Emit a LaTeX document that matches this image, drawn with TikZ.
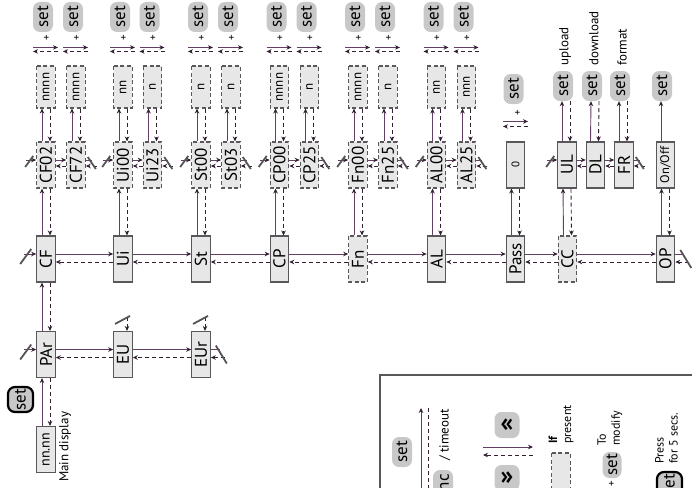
\documentclass[tikz,border=0pt]{standalone}
\usepackage{fontspec}
\setmainfont{PT Sans}
\usetikzlibrary{arrows.meta,calc}
\definecolor{boxfill}{RGB}{231,231,232}
\definecolor{boxline}{RGB}{88,88,90}
\definecolor{btn}{RGB}{200,200,201}
\definecolor{solc}{RGB}{100,62,100}
\definecolor{dashc}{RGB}{50,32,50}
\definecolor{slashc}{RGB}{85,85,85}
\tikzset{
 base/.style={rotate=90, inner sep=0pt, font=\fontsize{17}{17}\selectfont},
 mbox/.style={base, draw=boxline, fill=boxfill, line width=1.1pt, minimum width=46pt, minimum height=18.5pt},
 obox/.style={mbox, dash pattern=on 4pt off 2.5pt},
 vbox/.style={obox, minimum width=42pt, font=\fontsize{13}{13}\selectfont},
 setb/.style={base, fill=btn, rounded corners=7pt, minimum width=30pt, minimum height=20pt},
 pset/.style={base, fill=btn, draw=black, line width=2.2pt, rounded corners=7pt, minimum width=25pt, minimum height=25pt},
 btnu/.style={inner sep=0pt, fill=btn, rounded corners=7pt, minimum width=25pt, minimum height=26pt, font=\fontsize{26}{26}\selectfont\bfseries},
 plus/.style={base, font=\fontsize{11}{11}\selectfont},
 lab/.style={rotate=90, inner sep=0pt, anchor=west, align=left, font=\fontsize{13}{15}\selectfont},
 arrtip/.style={-{Stealth[length=5pt,width=4.5pt,color=dashc]}},
 sol/.style={draw=solc, line width=0.9pt, arrtip},
 solline/.style={draw=solc, line width=0.9pt},
 das/.style={draw=dashc, line width=0.9pt, dash pattern=on 4pt off 3pt, arrtip},
 dasline/.style={draw=dashc, line width=0.9pt, dash pattern=on 4pt off 3pt},
 slash/.style={draw=slashc, line width=1.8pt},
 frame/.style={draw=boxline, line width=1.2pt},
}
\newcommand\wrapL[2]{%
 \draw[sol] ($(#1.north)+(-12pt,#2)$) -- ([yshift=#2]#1.north);
 \draw[slash] ($(#1.north)+(-16pt,#2-10pt)$) -- ($(#1.north)+(-5pt,#2+5pt)$);}
\newcommand\wrapl[2]{%
 \draw[sol] ($(#1.north)+(-10pt,#2)$) -- ([yshift=#2]#1.north);
 \draw[slash] ($(#1.north)+(-11pt,#2-7pt)$) -- ($(#1.north)+(-3pt,#2+4pt)$);}
\newcommand\wrapR[3]{%
 \draw[solline] ([yshift=#2]#1.south) -- ($(#1.south)+(9pt,#2)$);
 \draw[das] ($(#1.south)+(14pt,#3)$) -- ([yshift=#3]#1.south);
 \draw[slash] ($(#1.south)+(5pt,#2+4pt)$) -- ($(#1.south)+(16pt,#3-6pt)$);}
\newcommand\wrapr[3]{%
 \draw[solline] ([yshift=#2]#1.south) -- ($(#1.south)+(6pt,#2)$);
 \draw[das] ($(#1.south)+(11pt,#3)$) -- ([yshift=#3]#1.south);
 \draw[slash] ($(#1.south)+(2pt,#2+3pt)$) -- ($(#1.south)+(10pt,#3-3pt)$);}
\newcommand\wrapT[1]{%
 \draw[das] ($(#1.east)+(4pt,14pt)$) -- ([xshift=4pt]#1.east);
 \draw[slash] ($(#1.east)+(-8pt,7pt)$) -- ($(#1.east)+(7pt,15pt)$);}
\begin{document}
\begin{tikzpicture}[x=1pt,y=-1pt]
\useasboundingbox (0,0) rectangle (692,487);
% ---------- main row
\node[mbox] (CF) at (46,259) {CF};
\node[mbox] (Ui) at (123,259) {Ui};
\node[mbox] (St) at (201,259) {St};
\node[mbox] (CP) at (279.5,259) {CP};
\node[obox] (Fn) at (358,259) {Fn};
\node[mbox] (AL) at (436.5,259) {AL};
\node[mbox] (Pass) at (515.5,259) {Pass};
\node[obox] (CC) at (567.5,259) {CC};
\node[mbox] (OP) at (665.5,259) {OP};
\foreach \a/\b in {CF/Ui, Ui/St, St/CP, CP/Fn, Fn/AL, AL/Pass, Pass/CC, CC/OP}{
 \draw[sol] ([yshift=5pt]\a.south) -- ([yshift=5pt]\b.north);
 \draw[das] ([yshift=-3pt]\b.north) -- ([yshift=-3pt]\a.south);
}
% ---------- parameter rows
\foreach \n/\t/\x/\v in {CFa/CF02/46/nnnn, CFb/CF72/76/nnnn, Uia/Ui00/123/nn, Uib/Ui23/152.5/n, Sta/St00/201/n, Stb/St03/231/n, CPa/CP00/279.5/nnnn, CPb/CP25/309.5/n, Fna/Fn00/358/nnnn, Fnb/Fn25/388/n, ALa/AL00/436.5/nn, ALb/AL25/466.5/nnn}{
 \node[obox] (\n) at (\x,165) {\t};
 \node[vbox] (v\n) at (\x,87) {\v};
 \node[setb] (s\n) at (\x-3,17) {set};
 \node[plus] (p\n) at (\x+1,38) {+};
 \draw[sol] ([xshift=-4pt]\n.east) -- ([xshift=-4pt]v\n.west);
 \draw[das] ([xshift=4pt]v\n.west) -- ([xshift=4pt]\n.east);
 \draw[sol] ($(v\n.east)+(-13pt,18pt)$) -- ($(v\n.east)+(12pt,18pt)$);
 \draw[das] ($(v\n.east)+(12pt,14pt)$) -- ($(v\n.east)+(-13pt,14pt)$);
}
% password
\node[mbox, font=\fontsize{11}{11}\selectfont] (Pz) at (515.5,165) {0};
\node[setb] (sPz) at (513.5,89) {set};
\node[plus] (pPz) at (518,113) {+};
\draw[sol] ($(Pz.east)+(-12.5pt,20pt)$) -- ($(Pz.east)+(12.5pt,20pt)$);
\draw[das] ($(Pz.east)+(12.5pt,15pt)$) -- ($(Pz.east)+(-12.5pt,15pt)$);
% copy card
\node[mbox] (UL) at (567,165) {UL};
\node[mbox] (DL) at (595.5,165) {DL};
\node[mbox] (FR) at (624,165) {FR};
\node[mbox, font=\fontsize{12.5}{12.5}\selectfont] (OnOff) at (665.5,165) {On/Off};
\foreach \n/\x/\l in {UL/563/upload, DL/592/download, FR/620/format}{
 \node[setb] (s\n) at (\x,86) {set};
 \node[lab] (l\n) at (\x+2,66) {\l};
 \draw[sol] ($(\n.east)+(-5pt,0pt)$) -- ($(s\n.west)+(-1pt,0pt)$);
 \draw[das] ($(s\n.west)+(7pt,0pt)$) -- ($(\n.east)+(3pt,0pt)$);
}
\node[setb] (sOn) at (662,86) {set};
\draw[sol] ($(OnOff.east)+(-4.5pt,0pt)$) -- ($(sOn.west)+(-1pt,0pt)$);
% main to sub
\foreach \m/\s in {CF/CFa, Ui/Uia, St/Sta, CP/CPa, Fn/Fna, AL/ALa, Pass/Pz, CC/UL, OP/OnOff}{
 \draw[sol] ([xshift=-4pt]\m.east) -- ([xshift=-4pt]\s.west);
 \draw[das] ([xshift=4pt]\s.west) -- ([xshift=4pt]\m.east);
}
% sub to sub
\foreach \a/\b in {CFa/CFb, Uia/Uib, Sta/Stb, CPa/CPb, Fna/Fnb, ALa/ALb, UL/DL, DL/FR}{
 \draw[sol] ([yshift=5pt]\a.south) -- ([yshift=5pt]\b.north);
 \draw[das] ([yshift=-1pt]\b.north) -- ([yshift=-1pt]\a.south);
}
\foreach \a in {CFa, Uia, Sta, CPa, Fna, ALa, UL}{\wrapl{\a}{5pt}}
\foreach \b in {CFb, Uib, Stb, CPb, Fnb, ALb, FR}{\wrapr{\b}{5pt}{-1pt}}
\wrapL{CF}{5pt}
\wrapR{OP}{5pt}{-3pt}
% ---------- lower part
\node[mbox] (PAr) at (46,354.5) {PAr};
\node[mbox] (EU) at (123,354.5) {EU};
\node[mbox] (EUr) at (201,354.5) {EUr};
\node[mbox, font=\fontsize{14}{14}\selectfont] (nn) at (46,449.5) {nn.nn};
\node[pset] (pset1) at (20.5,399.5) {set};
\node[lab] (md) at (65,482) {Main display};
\foreach \a/\b in {PAr/EU, EU/EUr}{
 \draw[sol] ([yshift=5pt]\a.south) -- ([yshift=5pt]\b.north);
 \draw[das] ([yshift=-3pt]\b.north) -- ([yshift=-3pt]\a.south);
}
\foreach \a/\b in {PAr/CF, nn/PAr}{
 \draw[sol] ([xshift=-4pt]\a.east) -- ([xshift=-4pt]\b.west);
 \draw[das] ([xshift=4pt]\b.west) -- ([xshift=4pt]\a.east);
}
\wrapL{PAr}{5pt}
\wrapR{EUr}{5pt}{-3pt}
\wrapT{EU}
\wrapT{EUr}
% ---------- legend
\draw[frame] (380,500) -- (380,375) -- (700,375);
\node[setb] (lset) at (402,452) {set};
\draw[sol] (421,495) -- (421,408);
\draw[dasline] (428,408) -- (428,495);
\node[setb] (linc) at (443,485) {inc};
\node[lab] (ltime) at (445,461) {/ timeout};
\node[btnu] (lup) at (507,425) {«};
\node[btnu] (ldn) at (507,478) {»};
\draw[sol] (483,447) -- (533,447);
\draw[das] (533,455) -- (483,455);
\node[vbox] (lopt) at (561,474) {};
\node[lab, font=\fontsize{12}{14}\selectfont] (lif) at (561,444) {\textbf{If}\\present};
\node[setb, minimum width=26pt, minimum height=19pt] (lmod) at (612,465) {set};
\node[plus] (lplus) at (612,484) {+};
\node[lab, font=\fontsize{12}{14}\selectfont] (lto) at (610,446) {To\\modify};
\node[pset, minimum width=26pt] (lpress) at (669.5,485) {set};
\node[lab, font=\fontsize{12}{14}\selectfont] (lpr) at (666.5,464) {Press\\for 5 secs.};
\end{tikzpicture}
\end{document}
